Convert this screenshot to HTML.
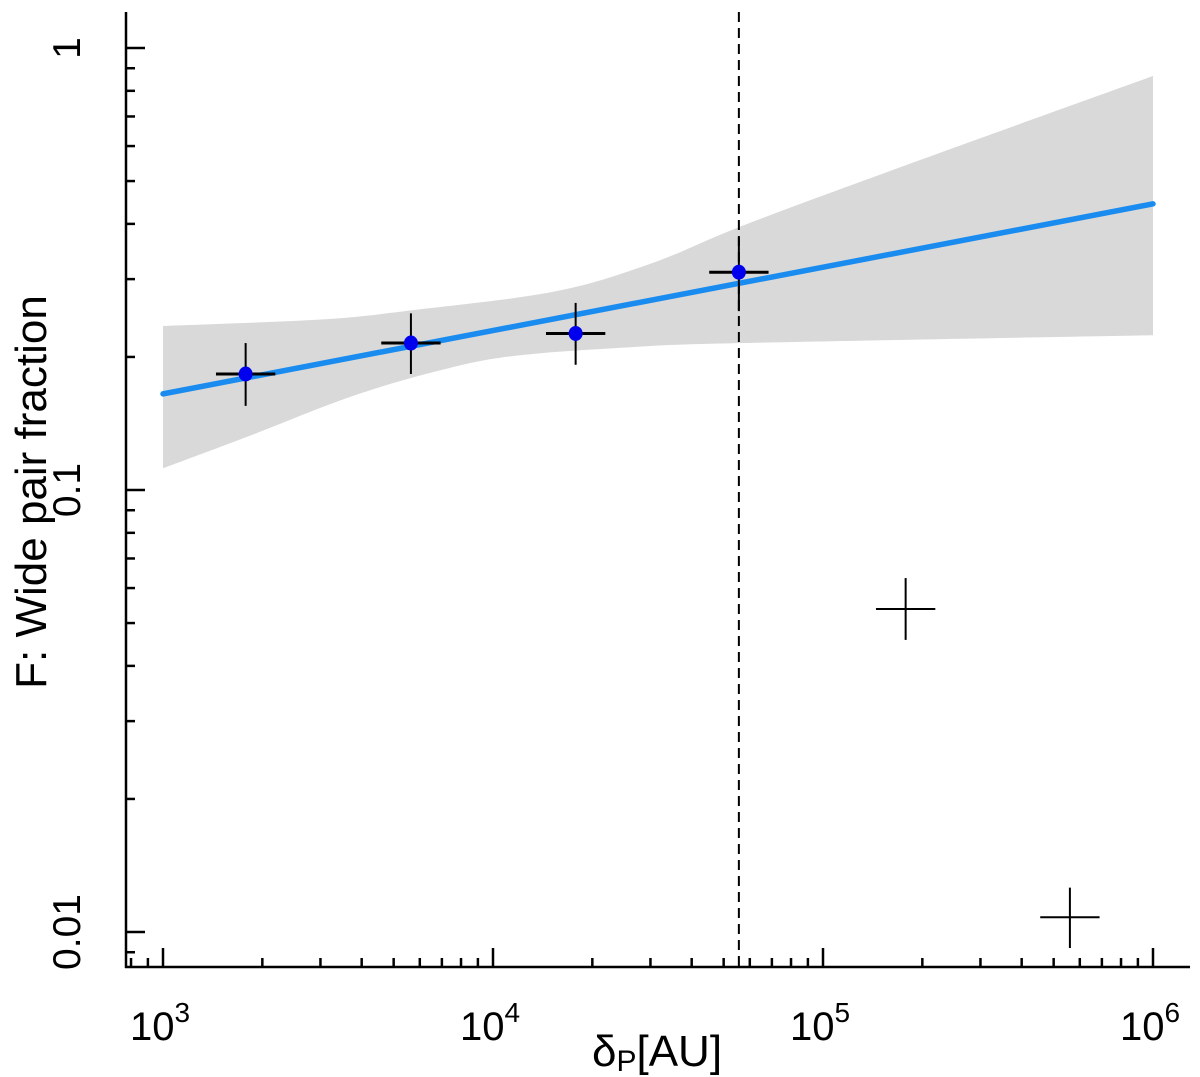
<!DOCTYPE html>
<html><head><meta charset="utf-8"><style>
html,body{margin:0;padding:0;background:#fff;}
svg{display:block;font-family:"Liberation Sans",Arial,sans-serif;}
</style></head><body>
<svg id="chart" width="1200" height="1077" viewBox="0 0 1200 1077"></svg>
<script>
const xCenters=[1780,5640,17800,55600,178000,560000];
const yCenters=[0.183,0.215,0.226,0.311,0.0538,0.0108];
const yLow=[0.155,0.183,0.192,0.254,0.0458,0.0092];
const yHigh=[0.215,0.251,0.265,0.373,0.0632,0.0126];
const xFactor=[1.23,1.23,1.23,1.23,1.23,1.23];
const hasDot=[true,true,true,true,false,false];
const fitX=[1000,1000000];
const fitY=[0.165,0.444];
const bandUpX=[1000,3000,5690,15300,30000,56900,159600,1000000];
const bandUpY=[0.235,0.243,0.255,0.281,0.325,0.396,0.527,0.864];
const bandLoX=[1000,1800,3740,7000,11500,25000,56900,1000000];
const bandLoY=[0.112,0.132,0.163,0.187,0.201,0.210,0.215,0.224];
const cutX=55600;
const xTickVals=[1000,10000,100000,1000000];
const xTickExp=["3","4","5","6"];
const yTickVals=[1,0.1,0.01];
const yTickLabels=["1","0.1","0.01"];

const NS="http://www.w3.org/2000/svg";
const svg=document.getElementById('chart');
const X=v=>163+330*(Math.log10(v)-3);
const Y=v=>490-442*(Math.log10(v)+1);
function el(t,a,p){const e=document.createElementNS(NS,t);for(const k in a)e.setAttribute(k,a[k]);(p||svg).appendChild(e);return e;}
function smooth(P){let d='';for(let i=0;i<P.length-1;i++){const p0=P[Math.max(i-1,0)],p1=P[i],p2=P[i+1],p3=P[Math.min(i+2,P.length-1)];
 const c1=[p1[0]+(p2[0]-p0[0])/6,p1[1]+(p2[1]-p0[1])/6],c2=[p2[0]-(p3[0]-p1[0])/6,p2[1]-(p3[1]-p1[1])/6];
 d+=` C${c1[0]},${c1[1]} ${c2[0]},${c2[1]} ${p2[0]},${p2[1]}`;}return d;}

// band
const up=bandUpX.map((x,i)=>[X(x),Y(bandUpY[i])]);
const lo=bandLoX.map((x,i)=>[X(x),Y(bandLoY[i])]).reverse();
const band=el('path',{d:`M${up[0][0]},${up[0][1]}`+smooth(up)+` L${lo[0][0]},${lo[0][1]}`+smooth(lo)+' Z',fill:'#d9d9d9'});



// dashed line
const dl=el('line',{x1:X(cutX),x2:X(cutX),y1:12,y2:967,stroke:'#000','stroke-width':2,'stroke-dasharray':'10,6'});



// fit line
const fl=el('line',{x1:X(fitX[0]),y1:Y(fitY[0]),x2:X(fitX[1]),y2:Y(fitY[1]),stroke:'#1a8cf0','stroke-width':5.5,'stroke-linecap':'round'});



// points
xCenters.forEach((xv,i)=>{
  const g=el('g',{});
  
  
  const cx=X(xv),cy=Y(yCenters[i]);
  el('line',{x1:cx,x2:cx,y1:Y(yHigh[i]),y2:Y(yLow[i]),stroke:'#000','stroke-width':2},g);
  el('line',{x1:X(xv/xFactor[i]),x2:X(xv*xFactor[i]),y1:cy,y2:cy,stroke:'#000','stroke-width':hasDot[i]?3:2},g);
  if(hasDot[i])el('ellipse',{cx:cx,cy:cy,rx:7,ry:7.5,fill:'#0000ee'},g);
});

// axes
const ax=el('g',{stroke:'#000','stroke-width':2.5});


el('line',{x1:126,y1:12,x2:126,y2:968},ax);
el('line',{x1:125,y1:967,x2:1190,y2:967},ax);
for(let d=2;d<=6;d++){for(let m=1;m<=9;m++){const v=m*Math.pow(10,d);const px=X(v);if(px<128||px>1190)continue;el('line',{x1:px,x2:px,y1:967,y2:m===1?948:958},ax);}}
for(let d=-3;d<=0;d++){for(let m=1;m<=9;m++){const v=m*Math.pow(10,d);const py=Y(v);if(py<14||py>965)continue;el('line',{x1:126,x2:m===1?145:135,y1:py,y2:py},ax);}}

xTickVals.forEach((v,i)=>{
  const t=el('text',{x:X(v)-3,y:1040,'font-size':40,'text-anchor':'middle'});
  t.textContent='10';
  const s=el('tspan',{dy:-18,'font-size':28});s.textContent=xTickExp[i];t.appendChild(s);
  
  
});
yTickVals.forEach((v,i)=>{
  const py=Y(v);
  const t=el('text',{x:0,y:0,'font-size':39,'text-anchor':'middle',transform:`translate(80,${py}) rotate(-90)`});
  t.textContent=yTickLabels[i];
  
  
});
const yt=el('text',{x:0,y:0,'font-size':44,'text-anchor':'middle',transform:'translate(46,492) rotate(-90)'});
yt.textContent='F: Wide pair fraction';


const xt=el('text',{x:657,y:1066,'font-size':44,'text-anchor':'middle'});
xt.textContent='δ';
const sub=el('tspan',{'font-size':30,dy:5});sub.textContent='P';xt.appendChild(sub);
const rest=el('tspan',{dy:-5});rest.textContent='[AU]';xt.appendChild(rest);


</script>
</body></html>
